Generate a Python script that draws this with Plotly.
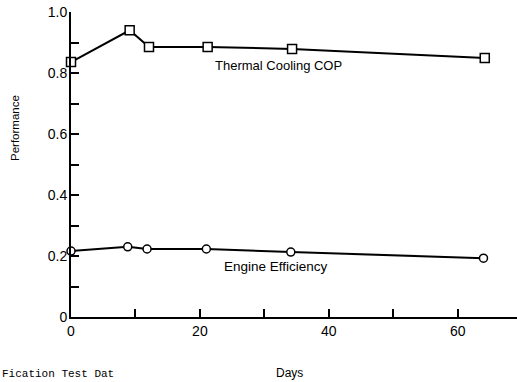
import plotly.graph_objects as go

days_cop = [0, 9.1, 12.1, 21.2, 34.3, 64.2]
cop = [0.836, 0.94, 0.885, 0.885, 0.879, 0.849]
days_eff = [0, 8.8, 11.8, 21.0, 34.1, 64.0]
eff = [0.216, 0.23, 0.223, 0.223, 0.213, 0.193]

y_tickvals = [0, 0.1, 0.2, 0.3, 0.4, 0.5, 0.6, 0.7, 0.8, 0.9, 1.0]
y_ticktext = ["0", "", "0.2", "", "0.4", "", "0.6", "", "0.8", "", "1.0"]
x_tickvals = [0, 10, 20, 30, 40, 50, 60]
x_ticktext = ["0", "", "20", "", "40", "", "60"]

W, H = 517, 382
ml, mr, mt, mb = 71, 0, 12, 65

fig = go.Figure()
fig.add_trace(go.Scatter(
    x=days_cop, y=cop, mode="lines+markers", name="Thermal Cooling COP",
    line=dict(color="black", width=2),
    marker=dict(symbol="square", size=9, color="white", line=dict(color="black", width=1.5)),
    cliponaxis=False))
fig.add_trace(go.Scatter(
    x=days_eff, y=eff, mode="lines+markers", name="Engine Efficiency",
    line=dict(color="black", width=2),
    marker=dict(symbol="circle", size=8, color="white", line=dict(color="black", width=1.5)),
    cliponaxis=False))

fam = "Liberation Sans, Arial, sans-serif"
font = dict(family=fam, size=14, color="black")

fig.update_layout(
    width=W, height=H,
    margin=dict(l=ml, r=mr, t=mt, b=mb),
    paper_bgcolor="white", plot_bgcolor="white",
    showlegend=False,
    font=font,
    xaxis=dict(range=[0, 69.2], tickvals=x_tickvals, ticktext=x_ticktext,
               ticks="inside", ticklen=8, tickwidth=1.5, tickcolor="black",
               showline=True, linecolor="black", linewidth=2,
               showgrid=False, zeroline=False, tickfont=font, automargin=False),
    yaxis=dict(range=[0, 1.0], tickvals=y_tickvals, ticktext=y_ticktext,
               ticks="inside", ticklen=8, tickwidth=1.5, tickcolor="black",
               showline=True, linecolor="black", linewidth=2, ticklabelstandoff=-1,
               showgrid=False, zeroline=False, tickfont=font, automargin=False),
    annotations=[
        dict(text="Thermal Cooling COP", x=22.0, y=0.823, xref="x", yref="y",
             xanchor="left", yanchor="middle", showarrow=False,
             font=dict(family=fam, size=13, color="black")),
        dict(text="Engine Efficiency", x=23.4, y=0.167, xref="x", yref="y",
             xanchor="left", yanchor="middle", showarrow=False,
             font=dict(family=fam, size=13.5, color="black")),
        dict(text="Performance", x=15, y=128, xref="paper", yref="paper",
             xanchor="center", yanchor="middle", showarrow=False, textangle=-90,
             font=dict(family=fam, size=11.5, color="black")),
        dict(text="Days", x=289, y=373, xref="paper", yref="paper",
             xanchor="center", yanchor="middle", showarrow=False,
             font=dict(family=fam, size=12, color="black")),
        dict(text="Fication Test Dat", x=0, y=366, xref="paper", yref="paper",
             xanchor="left", yanchor="top", showarrow=False,
             font=dict(family="Liberation Mono, Courier New, monospace", size=11, color="black")),
    ],
)

# convert page-pixel annotations to paper coordinates
for a in fig.layout.annotations:
    if a.xref == "paper":
        px, py = a.x, a.y
        a.x = (px - ml) / (W - ml - mr)
        a.y = (H - mb - py) / (H - mt - mb)

fig.write_html("out.html", config={"displayModeBar": False},
               post_script="document.body.style.margin='0';document.body.style.overflow='hidden';")
